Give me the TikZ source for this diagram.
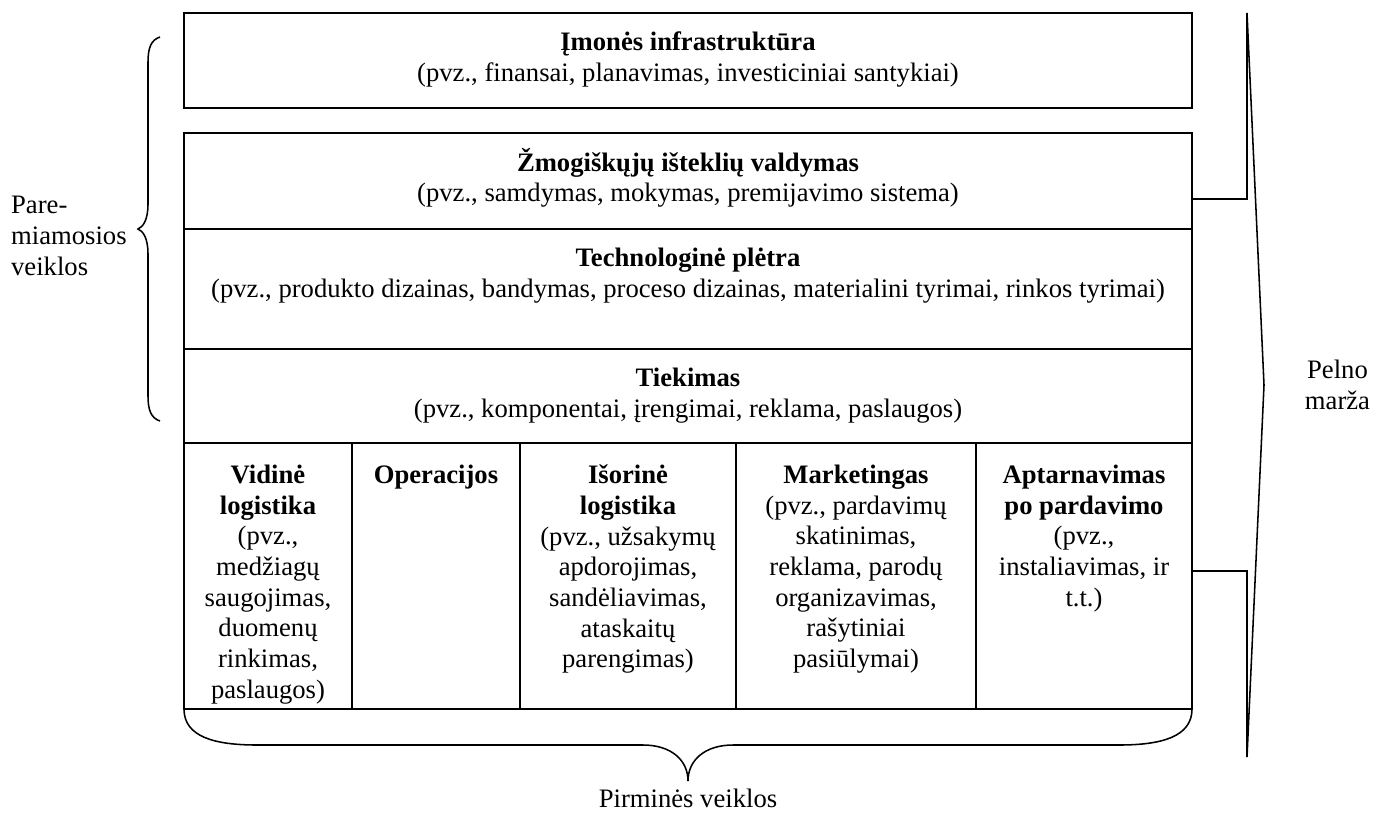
\documentclass[tikz,border=0pt]{standalone}
\usepackage{fontspec}
\setmainfont{Liberation Serif}
\usetikzlibrary{positioning}
\tikzset{%
   % one unit is one pixel of the reference, y runs downwards
   frame/.style={draw, line width=1pt},
   rim/.style={draw, line width=.8pt},
   cell/.style={
      align=center,
      anchor=north,
      inner sep=0pt,
      font=\fontsize{13.8}{15.9}\selectfont
   },
   side/.style={
      align=left,
      inner sep=0pt,
      font=\fontsize{13.8}{15.9}\selectfont
   },
}

\begin{document}
\begin{tikzpicture}[x=.518pt, y=-.518pt]
\useasboundingbox (0,0) rectangle (1381,817);
% support activities
\draw[frame] (184,13) rectangle (1192,108);
\draw[frame] (184,133) rectangle (1192,709);
\foreach \y in {229,349,443}
   \draw[frame] (184,\y) -- (1192,\y);
% primary activities
\foreach \x in {352,520,736,976}
   \draw[frame] (\x,443) -- (\x,709);

\node[cell] (infra) at (688,31.6) {\textbf{Įmonės infrastruktūra}\\
   (pvz., finansai, planavimas, investiciniai santykiai)};
\node[cell] (hrm) at (688,147.6) {\textbf{Žmogiškųjų išteklių valdymas}\\
   (pvz., samdymas, mokymas, premijavimo sistema)};
\node[cell] (techdev) at (688,247.8) {\textbf{Technologinė plėtra}\\
   (pvz., produkto dizainas, bandymas, proceso dizainas, materialini tyrimai, rinkos tyrimai)};
\node[cell] (procure) at (688,367.8) {\textbf{Tiekimas}\\
   (pvz., komponentai, įrengimai, reklama, paslaugos)};

\node[cell] (inlog) at (268,464.5) {\textbf{Vidinė}\\\textbf{logistika}\\(pvz.,\\medžiagų\\saugojimas,\\duomenų\\rinkimas,\\paslaugos)};
\node[cell] (ops) at (436,464.5) {\textbf{Operacijos}};
\node[cell] (outlog) at (628,464.5) {\textbf{Išorinė}\\\textbf{logistika}\\(pvz., užsakymų\\apdorojimas,\\sandėliavimas,\\ataskaitų\\parengimas)};
\node[cell] (mkt) at (856,464.5) {\textbf{Marketingas}\\(pvz., pardavimų\\skatinimas,\\reklama, parodų\\organizavimas,\\rašytiniai\\pasiūlymai)};
\node[cell] (service) at (1084,464.5) {\textbf{Aptarnavimas}\\\textbf{po pardavimo}\\(pvz.,\\instaliavimas, ir\\t.t.)};

% braces
\coordinate (stip) at (138,229);
\coordinate (ptip) at (688,781);
\draw[rim] (160,37) .. controls (151,40) and (148,48) .. (148,62) -- (148,204)
   .. controls (148,220) and (143,227) .. (stip)
   .. controls (143,231) and (148,238) .. (148,254) -- (148,396)
   .. controls (148,410) and (151,418) .. (160,421);
\draw[rim] (184,709) .. controls (184,737) and (215,745) .. (257,745) -- (643,745)
   .. controls (671,745) and (688,760) .. (ptip)
   .. controls (688,760) and (705,745) .. (733,745) -- (1119,745)
   .. controls (1161,745) and (1192,737) .. (1192,709);
\node[side, anchor=east] (support) at (127,236) {Pare-\\miamosios\\veiklos};
\node[side, align=center, below=4pt of ptip] (primary) {Pirminės veiklos};

% margin
\coordinate (hr-e) at (1192,199);
\coordinate (svc-e) at (1192,571);
\coordinate (mtop) at (1247,13);
\coordinate (mtip) at (1264,385);
\coordinate (mbot) at (1247,757);
\draw[rim] (hr-e) -| (mtop) -- (mtip) -- (mbot) |- (svc-e);
\node[side, align=center, right=21pt of mtip] (margin) {Pelno\\marža};
\end{tikzpicture}
\end{document}
